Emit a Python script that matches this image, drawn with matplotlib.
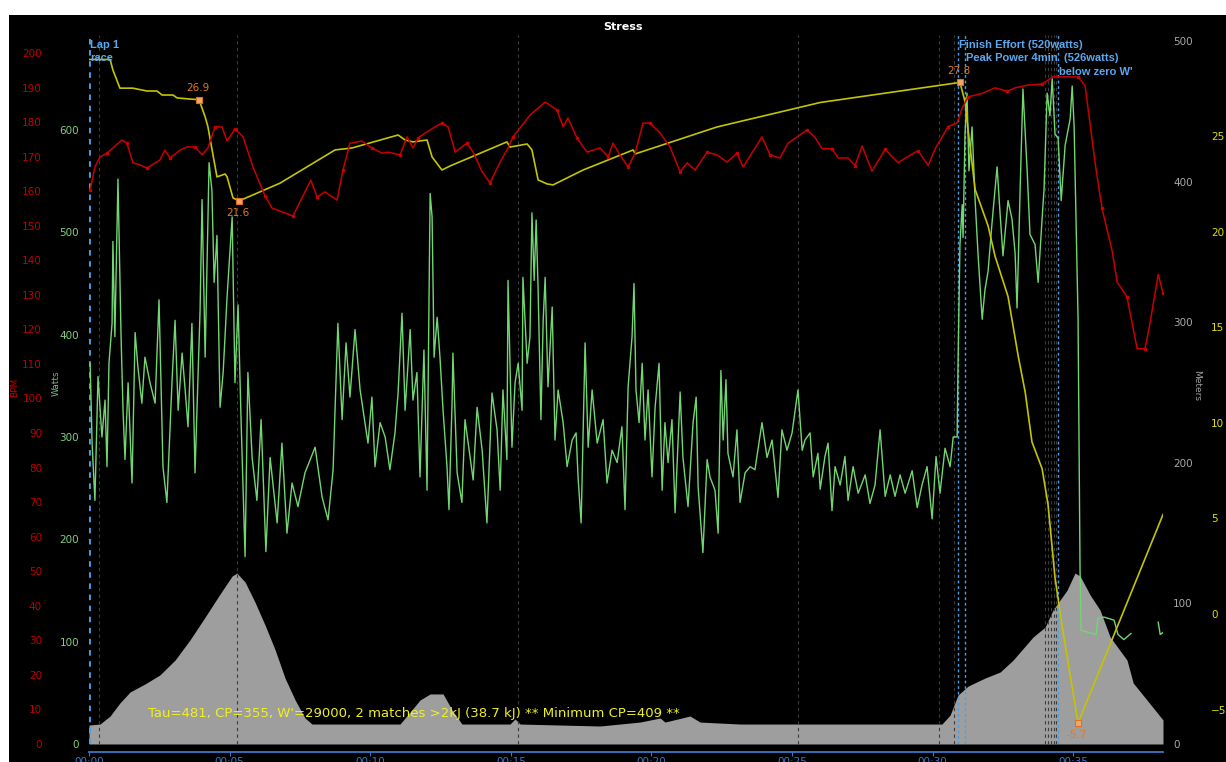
import numpy as np
import matplotlib.pyplot as plt
from matplotlib.patches import Rectangle

plt.rcParams['font.family'] = ['DejaVu Sans']

# --- ride data (time in minutes) ---
alt_t = [0.0, 0.39, 0.75, 1.10, 1.46, 1.99, 2.52, 3.06, 3.59, 4.13, 4.66, 5.09, 5.26, 5.55, 5.90,
         6.26, 6.62, 6.97, 7.33, 7.68, 7.93, 11.06, 11.42, 11.77, 12.13, 12.59, 12.91, 13.26,
         14.97, 15.15, 15.33, 18.17, 19.59, 20.31, 20.48, 21.37, 21.73, 23.15, 30.33, 30.62,
         30.90, 31.26, 31.86, 32.40, 32.86, 33.57, 34.00, 34.28, 34.78, 35.06, 35.24, 35.60,
         35.95, 36.31, 36.91, 37.13, 37.62, 38.19]
alt_m = [13.5, 14.2, 19.9, 29.2, 37.0, 42.7, 49.1, 59.7, 74.0, 90.3, 106.7, 119.5, 121.6, 115.2, 101.0,
         84.6, 66.9, 46.9, 31.3, 18.5, 14.2, 14.2, 22.8, 31.3, 35.6, 35.6, 24.2, 14.2,
         14.2, 17.8, 14.2, 12.8, 15.6, 18.5, 15.6, 19.9, 15.6, 14.2, 14.2, 20.6,
         34.8, 41.2, 46.9, 51.2, 59.7, 76.1, 83.2, 95.3, 109.5, 121.6, 119.5, 106.0,
         95.3, 76.1, 59.7, 43.4, 31.3, 17.1]

hr_t = [0.04, 0.21, 0.39, 0.64, 0.85, 1.17, 1.35, 1.56, 1.81, 2.06,
        2.52, 2.70, 2.88, 3.24, 3.49, 3.77, 4.02, 4.23, 4.48, 4.73,
        4.91, 5.19, 5.48, 5.83, 6.26, 6.51, 6.97, 7.25, 7.57, 7.89,
        8.11, 8.39, 8.82, 9.03, 9.28, 9.71, 10.06, 10.42, 10.63, 11.06,
        11.31, 11.52, 11.70, 11.95, 12.30, 12.55, 12.77, 13.02, 13.44, 13.66,
        13.98, 14.26, 14.62, 14.90, 15.08, 15.68, 16.22, 16.64, 16.86, 17.03,
        17.35, 17.71, 18.17, 18.46, 18.63, 18.88, 19.17, 19.42, 19.70, 19.95,
        20.31, 20.66, 21.02, 21.27, 21.55, 21.98, 22.33, 22.69, 23.04, 23.26,
        23.93, 24.22, 24.57, 24.86, 25.53, 25.82, 26.07, 26.42, 26.64, 26.99,
        27.24, 27.49, 27.84, 28.31, 28.77, 29.09, 29.48, 29.84, 30.09, 30.55,
        30.87, 31.05, 31.26, 31.76, 32.22, 32.65, 32.93, 33.39, 33.89, 34.28,
        34.60, 35.17, 35.42, 35.78, 36.02, 36.38, 36.56, 36.91, 37.09, 37.27,
        37.55, 37.73, 38.02, 38.19]
hr_bpm = [160.3, 167.0, 169.9, 171.0, 172.5, 174.8, 173.9, 168.2, 167.6, 166.7,
          169.0, 171.9, 169.6, 171.9, 172.8, 172.8, 170.5, 172.5, 178.6, 178.6,
          174.5, 178.0, 175.7, 167.0, 158.6, 155.1, 153.7, 152.8, 158.0, 163.2,
          158.3, 159.8, 157.4, 166.1, 173.9, 174.5, 172.5, 171.0, 171.3, 170.5,
          175.7, 172.5, 175.4, 176.8, 178.6, 179.7, 178.6, 171.3, 173.9, 171.3,
          165.6, 162.4, 168.4, 172.5, 175.7, 182.0, 185.8, 183.5, 178.6, 181.2,
          175.4, 171.3, 172.5, 169.9, 173.9, 170.5, 167.0, 171.0, 179.7, 179.7,
          176.8, 172.8, 165.6, 168.2, 166.1, 171.3, 170.5, 168.4, 171.0, 167.0,
          175.7, 170.5, 169.6, 173.9, 177.7, 175.5, 172.3, 172.3, 169.6, 169.6,
          167.4, 173.1, 165.8, 172.1, 168.2, 169.9, 171.7, 167.4, 172.3, 178.7,
          179.7, 184.1, 187.3, 188.3, 189.9, 188.9, 189.9, 190.7, 191.0, 193.1,
          193.1, 193.1, 190.5, 168.0, 155.1, 142.8, 133.7, 129.4, 121.9, 114.4,
          114.4, 121.9, 135.9, 130.5]

pw_t = [0.04, 0.11, 0.21, 0.32, 0.46, 0.57, 0.64, 0.71, 0.82, 0.85,
        0.92, 1.03, 1.14, 1.21, 1.28, 1.39, 1.53, 1.64, 1.74, 1.88,
        1.99, 2.17, 2.35, 2.49, 2.63, 2.77, 2.95, 3.06, 3.17, 3.31,
        3.41, 3.52, 3.66, 3.77, 3.95, 4.02, 4.13, 4.27, 4.37, 4.45,
        4.55, 4.66, 4.77, 4.91, 5.09, 5.19, 5.30, 5.41, 5.55, 5.65,
        5.80, 5.97, 6.12, 6.29, 6.44, 6.69, 6.86, 7.04, 7.22, 7.43,
        7.68, 8.04, 8.29, 8.50, 8.68, 8.85, 9.00, 9.14, 9.28, 9.46,
        9.64, 9.78, 9.92, 10.06, 10.17, 10.35, 10.53, 10.70, 10.88, 10.99,
        11.13, 11.24, 11.42, 11.52, 11.66, 11.77, 11.91, 12.02, 12.13, 12.20,
        12.27, 12.38, 12.48, 12.59, 12.73, 12.80, 12.91, 12.94, 13.09, 13.26,
        13.37, 13.55, 13.66, 13.80, 13.98, 14.15, 14.33, 14.51, 14.62, 14.72,
        14.86, 14.90, 15.04, 15.15, 15.26, 15.40, 15.43, 15.58, 15.68, 15.75,
        15.83, 15.90, 15.97, 16.07, 16.15, 16.22, 16.32, 16.47, 16.57, 16.68,
        16.86, 17.00, 17.18, 17.32, 17.39, 17.50, 17.57, 17.64, 17.75, 17.89,
        18.07, 18.28, 18.42, 18.60, 18.78, 18.95, 19.06, 19.17, 19.31, 19.38,
        19.45, 19.56, 19.67, 19.77, 19.88, 20.02, 20.13, 20.27, 20.38, 20.48,
        20.59, 20.73, 20.84, 21.02, 21.12, 21.30, 21.48, 21.59, 21.66, 21.83,
        21.98, 22.08, 22.26, 22.37, 22.47, 22.55, 22.65, 22.72, 22.90, 23.04,
        23.15, 23.33, 23.51, 23.68, 23.93, 24.11, 24.29, 24.50, 24.64, 24.82,
        25.00, 25.21, 25.36, 25.46, 25.64, 25.75, 25.92, 26.00, 26.17, 26.28,
        26.42, 26.53, 26.71, 26.88, 26.99, 27.17, 27.35, 27.60, 27.77, 27.95,
        28.13, 28.31, 28.49, 28.66, 28.84, 29.02, 29.27, 29.45, 29.62, 29.80,
        29.98, 30.12, 30.26, 30.44, 30.62, 30.73, 30.87, 30.90, 30.97, 31.05,
        31.08, 31.15, 31.22, 31.29, 31.40, 31.51, 31.61, 31.76, 31.86, 31.97,
        32.11, 32.29, 32.40, 32.50, 32.68, 32.82, 32.93, 33.00, 33.11, 33.21,
        33.36, 33.46, 33.64, 33.75, 33.89, 33.96, 34.07, 34.17, 34.25, 34.35,
        34.46, 34.57, 34.71, 34.89, 34.96, 35.03, 35.13, 35.17, 35.24, 35.28,
        35.81, 35.88, 36.09, 36.45, 36.59, 36.80, 37.05, 37.30, 38.02, 38.09,
        38.19]
pw_w = [372, 294, 238, 359, 300, 336, 271, 372, 411, 491,
        398, 552, 398, 326, 278, 353, 255, 402, 368, 333,
        378, 353, 333, 434, 271, 236, 353, 414, 326, 382,
        349, 310, 411, 265, 424, 532, 378, 568, 541, 451,
        497, 329, 363, 437, 515, 353, 429, 314, 183, 363,
        280, 238, 317, 188, 280, 216, 294, 206, 255, 232,
        265, 290, 241, 219, 268, 411, 317, 392, 339, 405,
        346, 320, 294, 339, 271, 314, 300, 268, 304, 343,
        421, 326, 405, 336, 363, 261, 385, 248, 538, 515,
        378, 417, 378, 326, 271, 229, 333, 382, 265, 236,
        317, 280, 258, 329, 287, 216, 343, 307, 248, 346,
        278, 453, 290, 353, 372, 326, 456, 372, 398, 519,
        453, 512, 444, 317, 414, 456, 349, 427, 297, 346,
        314, 271, 297, 304, 261, 216, 304, 392, 290, 346,
        294, 317, 255, 287, 275, 310, 229, 349, 398, 450,
        346, 314, 372, 297, 346, 261, 329, 372, 248, 314,
        275, 317, 226, 344, 280, 232, 314, 339, 251, 187,
        278, 261, 248, 206, 365, 297, 356, 284, 261, 307,
        236, 265, 271, 268, 314, 280, 297, 241, 307, 287,
        304, 346, 287, 297, 304, 261, 284, 249, 281, 294,
        228, 271, 253, 281, 238, 271, 245, 263, 235, 253,
        307, 242, 263, 242, 263, 245, 267, 231, 253, 271,
        220, 281, 245, 289, 271, 300, 300, 368, 488, 527,
        495, 596, 636, 560, 603, 531, 480, 415, 444, 462,
        509, 564, 517, 477, 531, 513, 480, 426, 542, 640,
        560, 498, 488, 451, 513, 542, 636, 614, 650, 596,
        592, 531, 585, 611, 643, 603, 466, 415, 170, 111,
        107, 123, 124, 121, 107, 102, 108, np.nan, 119, 107,
        109]

wb_t = [0.0, 0.75, 0.85, 1.10, 1.56, 2.06, 2.42, 2.60, 2.99, 3.13,
        3.59, 3.91, 4.13, 4.23, 4.55, 4.84, 4.91, 5.12, 5.33, 6.79,
        8.75, 9.35, 10.99, 11.24, 11.52, 12.02, 12.20, 12.55, 12.84, 14.86,
        14.97, 15.58, 15.75, 15.97, 16.29, 16.50, 17.57, 19.35, 19.42, 22.33,
        26.00, 30.97, 31.15, 31.26, 31.51, 31.97, 32.22, 32.68, 33.04, 33.29,
        33.53, 33.89, 34.10, 34.35, 34.60, 35.17, 38.19]
wb_kj = [29.0, 29.0, 28.45, 27.5, 27.5, 27.35, 27.35, 27.14, 27.14, 26.99,
         26.93, 26.9, 26.0, 25.47, 22.86, 23.01, 22.86, 21.76, 21.6, 22.53,
         24.27, 24.37, 25.05, 24.79, 24.69, 24.79, 23.90, 23.22, 23.43, 24.69,
         24.42, 24.58, 24.27, 22.70, 22.49, 22.44, 23.22, 24.27, 24.06, 25.47,
         26.75, 27.8, 26.8, 25.3, 22.2, 20.3, 18.7, 16.6, 13.5, 11.6,
         9.0, 7.6, 5.75, 1.9, -0.6, -5.7, 5.2]
wb_mark_t = [3.91, 5.33, 30.97, 35.17]
wb_mark_kj = [26.9, 21.6, 27.8, -5.7]

grid_t = [0.34, 5.26, 15.26, 25.21, 30.23, 30.76, 34.00, 34.10, 34.20, 34.30, 34.40]
lap_t = [0.0, 30.90, 31.15, 34.46]
lap_names = ['Lap 1', 'Finish Effort (520watts)', 'Peak Power 4min  (526watts)', "below zero W'"]

time_ticks = [0, 5, 10, 15, 20, 25, 30, 35]
time_labels = ['00:00', '00:05', '00:10', '00:15', '00:20', '00:25', '00:30', '00:35']
bpm_ticks = list(range(0, 201, 10))
watt_ticks = list(range(0, 601, 100))
meter_ticks = list(range(0, 501, 100))
wbal_ticks = [-5, 0, 5, 10, 15, 20, 25]
summary = "Tau=481, CP=355, W'=29000, 2 matches >2kJ (38.7 kJ) ** Minimum CP=409 **"

W, H = 1226, 762
fig = plt.figure(figsize=(W / 100, H / 100), dpi=100, facecolor='white')
fig.patches.append(Rectangle((9 / W, 0), 1, 1 - 15 / H, transform=fig.transFigure,
                             facecolor='black', edgecolor='none', zorder=-1))

rect = [89 / W, (H - 744) / H, (1163 - 89) / W, (744 - 35) / H]
ax_alt = fig.add_axes(rect, facecolor='black')
ax_pw = ax_alt.twinx()
ax_wb = ax_alt.twinx()
ax_hr = ax_alt.twinx()

for a in (ax_alt, ax_pw, ax_wb, ax_hr):
    for s in a.spines.values():
        s.set_visible(False)

# altitude (grey hill)
ax_alt.fill_between(alt_t, 0, alt_m, color='#9e9e9e', lw=0, zorder=1)
ax_alt.set_ylim(0, 504.3)
ax_alt.yaxis.tick_right()
ax_alt.set_yticks(meter_ticks)
ax_alt.tick_params(axis='y', colors='#a8a8a8', length=0, pad=7.2, labelsize=7.5)

# x axis (time)
ax_alt.set_xlim(0, 38.19)
ax_alt.set_xticks(time_ticks)
ax_alt.set_xticklabels(time_labels)
ax_alt.spines['bottom'].set_visible(True)
ax_alt.spines['bottom'].set_color('#3a78c8')
ax_alt.spines['bottom'].set_linewidth(1.3)
ax_alt.spines['bottom'].set_position(('outward', 6))
ax_alt.tick_params(axis='x', colors='#3a78c8', length=3, pad=0.5, labelsize=7.5)

for t in grid_t:
    ax_alt.axvline(t, color='#3c3c3c', ls=(0, (3, 3)), lw=0.8, zorder=2)
for i, t in enumerate(lap_t):
    ax_alt.axvline(t, color='#4a9fe8', ls=(0, (2, 2)), lw=2.0 if i == 0 else 1.0, zorder=5)

# power
ax_pw.plot(pw_t, pw_w, color='#72d672', lw=1.0)
ax_pw.set_ylim(0, 692.8)
ax_pw.yaxis.tick_left()
ax_pw.set_yticks(watt_ticks)
ax_pw.tick_params(axis='y', colors='#80d080', length=0, pad=7.2, labelsize=7.5)

# W' balance
ax_wb.plot(wb_t, wb_kj, color='#c4c400', lw=1.2)
ax_wb.plot(wb_mark_t, wb_mark_kj, 's', ms=4, mfc='#f0a868', mec='#e07020', mew=0.8)
for t, v in zip(wb_mark_t, wb_mark_kj):
    dy = -8.5 if v in (21.6, -5.7) else 8.5
    ax_wb.annotate(f'{v:.1f}', (t, v), xytext=(-1, dy), textcoords='offset points',
                   ha='center', va='center', color='#e07b20', fontsize=7.5)
ax_wb.set_ylim(-6.80, 30.28)
ax_wb.yaxis.tick_right()
ax_wb.set_yticks(wbal_ticks)
ax_wb.tick_params(axis='y', colors='#e0e000', length=0, pad=34.5, labelsize=7.5)

# heart rate
ax_hr.plot(hr_t, hr_bpm, color='#c80000', lw=1.1, marker='s', ms=1.8, markevery=3)
ax_hr.set_ylim(0, 205.2)
ax_hr.yaxis.tick_left()
ax_hr.set_yticks(bpm_ticks)
ax_hr.tick_params(axis='y', colors='#c00000', length=0, pad=33.8, labelsize=7.5)

# lap / interval labels
tr = ax_hr.get_xaxis_transform()
lap_y = [0.9866, 0.9859, 0.9676, 0.9478]
lap_font = ['Liberation Sans', 'DejaVu Sans']
for t, name, y in zip(lap_t, lap_names, lap_y):
    ax_hr.text(t + 0.03, y, name, transform=tr, color='#5aa8f0', fontsize=8,
               family=lap_font, fontweight='bold', ha='left', va='center')
ax_hr.text(0.03, 0.9669, 'race', transform=tr, color='#5aa8f0', fontsize=8,
           family=lap_font, fontweight='bold', ha='left', va='center')

fig.text(623 / W, 1 - 27 / H, 'Stress', color='white', fontweight='bold', fontsize=8,
         ha='center', va='center')
fig.text(148 / W, 1 - 713 / H, summary, color='#f0f020', fontsize=9.5, va='center')
fig.text(15 / W, 1 - 387 / H, 'BPM', rotation=90, color='#c00000', fontsize=6.5,
         ha='center', va='center')
fig.text(56 / W, 1 - 383 / H, 'Watts', rotation=90, color='#70c070', fontsize=6.5,
         ha='center', va='center')
fig.text(1197 / W, 1 - 385 / H, 'Meters', rotation=270, color='#a0a0a0', fontsize=6.5,
         ha='center', va='center')

fig.savefig('out.png', dpi=100, facecolor='white')
